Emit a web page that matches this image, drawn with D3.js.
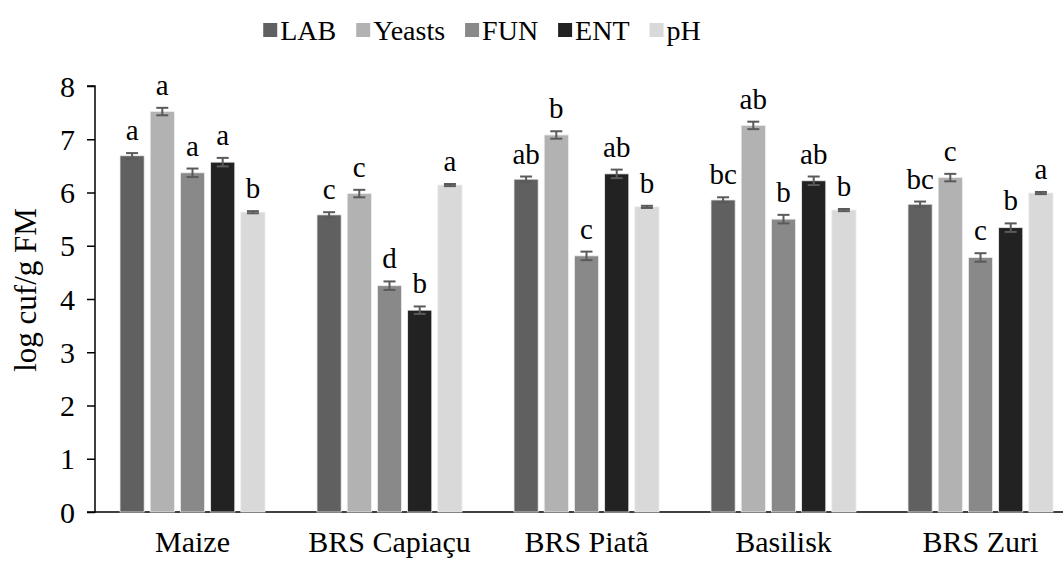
<html>
<head>
<meta charset="utf-8">
<script src="https://d3js.org/d3.v7.min.js"></script>
<style>
  body { margin: 0; background: #fff; }
  svg text { font-family: "Liberation Serif", "Times New Roman", Times, serif; fill: #000; }
</style>
</head>
<body>
<svg id="chart" width="1064" height="563"></svg>
<script>
const categories = ["Maize", "BRS Capiaçu", "BRS Piatã", "Basilisk", "BRS Zuri"];
const seriesNames = ["LAB", "Yeasts", "FUN", "ENT", "pH"];
const seriesColors = ["#606060", "#b2b2b2", "#898989", "#222222", "#d9d9d9"];

// mean values per series, in category order
const LAB    = [6.69, 5.58, 6.25, 5.86, 5.78];
const Yeasts = [7.52, 5.98, 7.08, 7.26, 6.28];
const FUN    = [6.37, 4.25, 4.81, 5.50, 4.78];
const ENT    = [6.57, 3.79, 6.35, 6.22, 5.34];
const pH     = [5.63, 6.14, 5.73, 5.67, 5.99];

// error bar half-widths
const LABerr    = [0.05, 0.05, 0.05, 0.05, 0.05];
const Yeastserr = [0.07, 0.07, 0.07, 0.07, 0.07];
const FUNerr    = [0.08, 0.08, 0.08, 0.08, 0.08];
const ENTerr    = [0.08, 0.07, 0.08, 0.08, 0.08];
const pHerr     = [0.02, 0.02, 0.02, 0.02, 0.02];

// significance letters
const LABlet    = ["a", "c", "ab", "bc", "bc"];
const Yeastslet = ["a", "c", "b", "ab", "c"];
const FUNlet    = ["a", "d", "c", "b", "c"];
const ENTlet    = ["a", "b", "ab", "ab", "b"];
const pHlet     = ["b", "a", "b", "b", "a"];

const yTicks = [0, 1, 2, 3, 4, 5, 6, 7, 8];

const values = [LAB, Yeasts, FUN, ENT, pH];
const errors = [LABerr, Yeastserr, FUNerr, ENTerr, pHerr];
const letters = [LABlet, Yeastslet, FUNlet, ENTlet, pHlet];

const rows = [];
categories.forEach((c, ci) => {
    seriesNames.forEach((s, si) => {
        rows.push({cat: c, key: s, si: si, v: values[si][ci], e: errors[si][ci], l: letters[si][ci]});
    });
});

const FONT = '"Liberation Serif", "Times New Roman", Times, serif';
const svg = d3.select('#chart');
const plotLeft = 95, plotRight = 1063, plotTop = 86, plotBottom = 512;

const yScale = d3.scaleLinear().domain([0, 8]).range([plotBottom, plotTop]);
const x0 = d3.scaleBand().domain(categories).range([94, 1079]).padding(0);
const x1 = d3.scaleBand().domain(seriesNames).range([-72.5, 72.5]).paddingInner(0.2);

// y axis
const yAxis = svg.append('g')
    .attr('transform', `translate(${plotLeft}, 0)`)
    .call(d3.axisLeft(yScale).tickValues(yTicks).tickSize(8).tickPadding(12));
yAxis.attr('font-family', FONT).attr('font-size', 30);
yAxis.select('.domain').attr('stroke', '#000').attr('stroke-width', 1.5).attr('d', `M-8,${plotTop}H0V${plotBottom}H-8`);
yAxis.selectAll('.tick line').attr('stroke', '#000').attr('stroke-width', 1.5);
yAxis.selectAll('.tick text').attr('dy', '0.34em');

// x axis line
svg.append('line')
    .attr('x1', plotLeft).attr('x2', plotRight)
    .attr('y1', plotBottom).attr('y2', plotBottom)
    .attr('stroke', '#000').attr('stroke-width', 1.5);

// category labels
svg.selectAll('.cat')
    .data(categories)
    .enter()
    .append('text')
    .attr('x', d => x0(d) + x0.bandwidth() / 2)
    .attr('y', 552)
    .attr('text-anchor', 'middle')
    .attr('font-family', FONT)
    .style('font-size', '30px')
    .text(d => d);

// bars
const cx = d => x0(d.cat) + x0.bandwidth() / 2 + x1(d.key);
svg.selectAll('.bar')
    .data(rows)
    .enter()
    .append('rect')
    .attr('x', cx)
    .attr('y', d => yScale(d.v))
    .attr('width', x1.bandwidth())
    .attr('height', d => plotBottom - yScale(d.v))
    .attr('fill', d => seriesColors[d.si])
    .attr('stroke', '#ececec')
    .attr('stroke-width', 0.8);

// error bars
const eb = svg.selectAll('.err')
    .data(rows)
    .enter()
    .append('g')
    .attr('stroke', '#5a5a5a')
    .attr('stroke-width', 2);
eb.append('line')
    .attr('x1', d => cx(d) + x1.bandwidth() / 2).attr('x2', d => cx(d) + x1.bandwidth() / 2)
    .attr('y1', d => yScale(d.v + d.e)).attr('y2', d => yScale(d.v - d.e));
eb.append('line')
    .attr('x1', d => cx(d) + x1.bandwidth() / 2 - 6).attr('x2', d => cx(d) + x1.bandwidth() / 2 + 6)
    .attr('y1', d => yScale(d.v + d.e)).attr('y2', d => yScale(d.v + d.e));
eb.append('line')
    .attr('x1', d => cx(d) + x1.bandwidth() / 2 - 6).attr('x2', d => cx(d) + x1.bandwidth() / 2 + 6)
    .attr('y1', d => yScale(d.v - d.e)).attr('y2', d => yScale(d.v - d.e));

// letters
svg.selectAll('.lett')
    .data(rows)
    .enter()
    .append('text')
    .attr('x', d => cx(d) + x1.bandwidth() / 2)
    .attr('y', d => yScale(d.v + d.e) - 13)
    .attr('text-anchor', 'middle')
    .attr('font-family', FONT)
    .style('font-size', '29px')
    .text(d => d.l);

// y label
svg.append('text')
    .attr('transform', 'translate(36, 290) rotate(-90)')
    .attr('text-anchor', 'middle')
    .attr('font-family', FONT)
    .style('font-size', '31px')
    .text('log cuf/g FM');

// legend
const legend = svg.append('g');
let lx = 0;
seriesNames.forEach((s, i) => {
    const g = legend.append('g').attr('transform', `translate(${lx}, 0)`);
    g.append('rect').attr('x', 0).attr('y', 23).attr('width', 14).attr('height', 14).attr('fill', seriesColors[i]);
    const t = g.append('text').attr('x', 17).attr('y', 40)
        .attr('font-family', FONT).style('font-size', '28px').text(s);
    lx += 17 + t.node().getComputedTextLength() + 20;
});
const legendW = lx - 20;
legend.attr('transform', `translate(${482 - legendW / 2}, 0)`);
</script>
</body>
</html>
